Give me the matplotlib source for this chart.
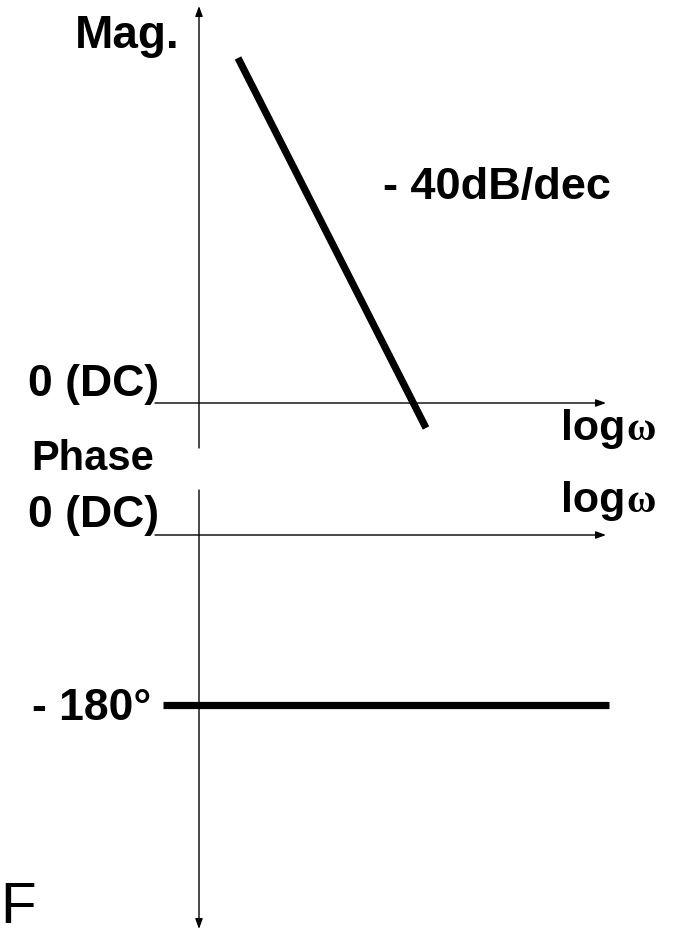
import matplotlib
matplotlib.use("Agg")
import matplotlib.pyplot as plt

# Asymptotic Bode sketch of a double integrator: -40 dB/dec, -180 deg phase
mag_logw = [0.415, 2.415]      # decades
mag_db = [74.6, -5.4]          # dB
phase_logw = [-0.385, 4.36]    # decades
phase_deg = [-180, -180]       # degrees

W, H, DPI = 675, 930, 100
fig = plt.figure(figsize=(W / DPI, H / DPI), dpi=DPI)
fig.patch.set_facecolor("white")

# horizontal scale shared by both panels: pixels per decade and origin column
PX_DEC, X0 = 94.0, 199.0
xlim = (-X0 / PX_DEC, (W - X0) / PX_DEC)

# magnitude panel: origin row 403, 4.625 px per dB
PX_DB, Y_MAG = 4.625, 403.0
ax_m = fig.add_axes([0, 0, 1, 1])
ax_m.set_xlim(*xlim)
ax_m.set_ylim((Y_MAG - H) / PX_DB, Y_MAG / PX_DB)
ax_m.axis("off")

# phase panel: origin row 535, 170 px for 180 degrees
PX_DEG, Y_PH = 170.0 / 180.0, 535.0
ax_p = fig.add_axes([0, 0, 1, 1])
ax_p.set_xlim(*xlim)
ax_p.set_ylim((Y_PH - H) / PX_DEG, Y_PH / PX_DEG)
ax_p.axis("off")
ax_p.patch.set_alpha(0)

arrow = dict(arrowstyle="-|>,head_length=0.6,head_width=0.22",
             mutation_scale=10, lw=1.0, color="black",
             shrinkA=0, shrinkB=0)

def px_x(p):
    return (p - X0) / PX_DEC

# magnitude axes
ax_m.annotate("", xy=(0, (Y_MAG - 6) / PX_DB), xytext=(0, (Y_MAG - 448) / PX_DB),
              arrowprops=arrow)
ax_m.annotate("", xy=(px_x(606), 0), xytext=(px_x(155), 0), arrowprops=arrow)
ax_m.plot(mag_logw, mag_db, color="black", lw=5.2, solid_capstyle="butt")

# phase axes
ax_p.annotate("", xy=(0, (Y_PH - 929) / PX_DEG), xytext=(0, (Y_PH - 490) / PX_DEG),
              arrowprops=arrow)
ax_p.annotate("", xy=(px_x(606), 0), xytext=(px_x(155), 0), arrowprops=arrow)
ax_p.plot(phase_logw, phase_deg, color="black", lw=5.2, solid_capstyle="butt")

BOLD = dict(family="Liberation Sans", weight="bold", color="black")

def label(x, y, s, size=31, ha="left", **kw):
    props = dict(BOLD)
    props.update(kw)
    return fig.text(x / W, 1 - y / H, s, ha=ha, va="baseline", fontsize=size, **props)

label(179, 48, "Mag.", size=33, ha="right")
label(383, 199, "- 40dB/dec", size=32.5)
label(28, 396, "0 (DC)", size=32)
label(31, 470, "Phase", size=30)
label(28, 527, "0 (DC)", size=32)
label(32, 720, "- 180°", size=32)

renderer = fig.canvas.get_renderer()
for base in (440, 512):
    t = label(561, base, "log")
    bb = t.get_window_extent(renderer)
    fig.text(bb.x1 / W + 1 / W, 1 - base / H, "ω", ha="left", va="baseline",
             fontsize=29, family="Liberation Serif", weight="bold", color="black")

fig.text(0, 1 - 923 / H, "F", ha="left", va="baseline", fontsize=42,
         family="Liberation Sans", color="black")

fig.savefig("out.png", dpi=DPI, facecolor="white")
